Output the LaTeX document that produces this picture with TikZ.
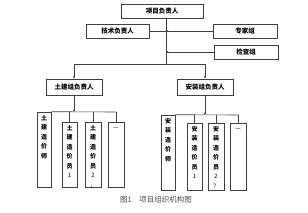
\documentclass[tikz,border=0pt]{standalone}
\usepackage{fontspec}
\newfontfamily\cjk{Noto Sans CJK SC}
\usepackage{tikz}
\usetikzlibrary{arrows.meta,positioning}

\begin{document}
\begin{tikzpicture}[x=1pt, y=-1pt,
    box/.style={draw=black!75, line width=0.6pt, minimum height=14, inner sep=0, font=\cjk\bfseries\fontsize{6.5}{7}\selectfont},
    col/.style={draw=black!75, line width=0.6pt, inner sep=0},
    coltext/.style={font=\cjk\bfseries\fontsize{6}{9.5}\selectfont, align=center, inner sep=0},
    line/.style={draw=black!75, line width=0.6pt},
    arr/.style={line, -{Latex[length=2.2pt, width=2.2pt]}}
]
\useasboundingbox (0,0) rectangle (308,212);
% top part
\node[box, minimum width=82] (pm) at (162,11) {项目负责人};
\node[box, minimum width=63] (tech) at (117.5,31) {技术负责人};
\node[box, minimum width=64] (expert) at (245,31) {专家组};
\node[box, minimum width=64] (check) at (246,52) {检查组};
\coordinate (j1) at (166,64);
\draw[line] (j1 |- pm.south) -- (j1);
\draw[line] (tech.east) -- (tech.east -| j1);
\draw[arr] (expert.west) -- (expert.west -| j1);
\draw[arr] (check.west) -- (check.west -| j1);
% group leaders
\node[box, minimum width=56, minimum height=16] (civil) at (74,87) {土建组负责人};
\node[box, minimum width=56, minimum height=16] (install) at (205,87) {安装组负责人};
\draw[arr] (j1) -| (civil.north);
\draw[arr] (j1) -| (install.north);
% civil columns
\node[col, minimum width=14, minimum height=75] (tjs) at (44,149.5) {};
\node[col, minimum width=15, minimum height=65] (tjy1) at (69.5,154.5) {};
\node[col, minimum width=16, minimum height=65] (tjy2) at (93,154.5) {};
\node[col, minimum width=16, minimum height=65] (tjy3) at (116,154.5) {};
\node[coltext, below=3pt of tjs.north] (tjs-t) {土\\建\\造\\价\\师};
\node[coltext, below=3pt of tjy1.north] (tjy1-t) {土\\建\\造\\价\\员\\\mdseries 1};
\node[coltext, below=3pt of tjy2.north] (tjy2-t) {土\\建\\造\\价\\员\\\mdseries 2\\\mdseries ，};
\node[coltext, below=6pt of tjy3.north] (tjy3-t) {\mdseries —};
\coordinate (c1) at (74,112);
\draw[arr] (civil.south) -- (c1);
\draw[line] (tjs.north east) -- (c1 -| tjy3);
\foreach \n in {tjy1,tjy2,tjy3}
    \draw[line] (c1 -| \n) -- (\n.north);
% install columns
\node[col, minimum width=14, minimum height=75] (azs) at (168,152.5) {};
\node[col, minimum width=15, minimum height=67] (azy1) at (194.5,156.5) {};
\node[col, minimum width=16, minimum height=67] (azy2) at (216,156.5) {};
\node[col, minimum width=16, minimum height=67] (azy3) at (238,156.5) {};
\node[coltext, below=3pt of azs.north] (azs-t) {安\\装\\造\\价\\师};
\node[coltext, below=3pt of azy1.north] (azy1-t) {安\\装\\造\\价\\员\\\mdseries 1};
\node[coltext, below=3pt of azy2.north] (azy2-t) {安\\装\\造\\价\\员\\\mdseries 2\\\mdseries ？};
\node[coltext, below=6pt of azy3.north] (azy3-t) {\mdseries —};
\coordinate (c2) at (205,115);
\draw[arr] (install.south) -- (c2);
\draw[line] (azs.north east) -- (c2 -| azy3);
\foreach \n in {azy1,azy2,azy3}
    \draw[line] (c2 -| \n) -- (\n.north);
% caption
\node[font=\cjk\fontsize{7.5}{8}\selectfont, text=black!70] (cap) at (156,200) {图1\quad 项目组织机构图};
\end{tikzpicture}
\end{document}
